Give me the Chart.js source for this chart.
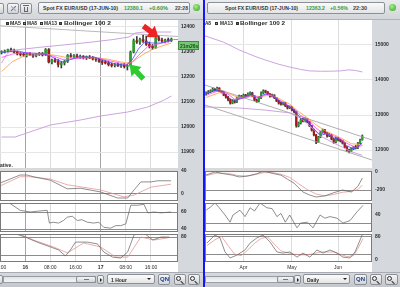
<!DOCTYPE html>
<html><head><meta charset="utf-8">
<script src="https://cdn.jsdelivr.net/npm/chart.js@4.4.1/dist/chart.umd.min.js"></script>
<style>
html,body{margin:0;padding:0}
body{width:400px;height:287px;position:relative;overflow:hidden;background:#d3d7dc;font-family:"Liberation Sans",Arial,sans-serif}
.a{position:absolute}
.t{position:absolute;white-space:nowrap;font-weight:bold;font-size:5px;line-height:6px;color:#2a2a2a;z-index:3}
.tt{font-size:6px;line-height:7px;transform-origin:0 50%}
.lg{font-size:6px;line-height:6px;transform-origin:0 50%}
canvas{position:absolute;z-index:1}
.sq{position:absolute;width:3px;height:3px;box-sizing:border-box;border:0.6px solid #333;z-index:3}
.btn{position:absolute;background:linear-gradient(#f6f6f6,#d2d4d8);border:1px solid #8c9096;border-radius:2px;box-sizing:border-box;z-index:3}
.ov{z-index:3}
</style></head><body>
<!-- top bar -->
<div class="a" style="left:0;top:0;width:400px;height:20px;background:linear-gradient(#e9ebed,#d2d5d9);border-bottom:1px solid #b0b4ba;box-sizing:border-box"></div>
<!-- plot backgrounds -->
<div class="a" style="left:0;top:20px;width:178px;height:252px;background:#fff"></div>
<div class="a" style="left:205px;top:20px;width:167px;height:252px;background:#fff"></div>
<div class="a" style="left:178px;top:20px;width:25px;height:252px;background:#d5d9de"></div>
<div class="a" style="left:372px;top:20px;width:28px;height:252px;background:#d5d9de"></div>
<div class="a" style="left:0;top:168px;width:178px;height:3px;background:#d9d9d9"></div>
<div class="a" style="left:205px;top:168px;width:167px;height:3px;background:#d9d9d9"></div>

<script>
// ================= LEFT : hourly =================
const leftOpen  = [12298,12300,12304,12310,12306,12300,12292,12290,12288,12292,12288,12284,12290,12294,12288,12310,12260,12268,12262,12250,12256,12262,12286,12282,12284,12280,12282,12278,12280,12276,12272,12270,12262,12258,12256,12250,12246,12250,12244,12248,12242,12246,12300,12345,12340,12350,12344,12330,12322,12318,12356,12348,12344,12348,12346];
const leftHigh  = [12305,12308,12312,12316,12312,12304,12298,12296,12294,12298,12292,12294,12298,12298,12314,12314,12272,12276,12270,12262,12266,12290,12294,12290,12292,12288,12286,12284,12286,12282,12278,12276,12268,12266,12262,12256,12254,12256,12252,12254,12250,12304,12352,12362,12356,12368,12364,12340,12330,12362,12366,12356,12352,12356,12356];
const leftLow   = [12292,12296,12300,12302,12296,12288,12284,12282,12280,12286,12278,12280,12286,12284,12286,12256,12252,12258,12240,12236,12248,12258,12278,12276,12278,12274,12272,12270,12274,12268,12262,12258,12250,12252,12244,12240,12240,12242,12238,12236,12228,12242,12296,12334,12330,12338,12326,12316,12310,12314,12344,12338,12336,12340,12342];
const leftClose = [12300,12304,12310,12306,12300,12292,12290,12288,12292,12288,12284,12290,12294,12288,12310,12260,12268,12262,12250,12256,12262,12286,12282,12284,12280,12282,12278,12280,12276,12272,12270,12262,12258,12256,12250,12246,12250,12244,12248,12242,12246,12300,12345,12340,12350,12344,12330,12322,12318,12356,12348,12344,12348,12346,12352];
const leftMA5  = [[0.5,12298],[3,12302],[6,12303],[10,12292],[14,12292],[16,12284],[18,12270],[20,12260],[22,12268],[25,12280],[30,12279],[33,12266],[36,12254],[40,12246],[42,12268],[44,12312],[46,12340],[48,12336],[51,12336],[54.5,12348]];
const leftMA8  = [[0.5,12278],[4,12292],[8,12298],[14,12292],[17,12283],[20,12270],[24,12274],[30,12279],[34,12267],[40,12250],[42,12258],[44,12286],[47,12322],[51,12334],[54.5,12344]];
const leftMA13 = [[0.5,12222],[4,12262],[8,12286],[14,12292],[18,12286],[22,12276],[28,12278],[34,12272],[40,12256],[42,12260],[45,12286],[48,12308],[51,12322],[54.5,12336]];
const leftBandUpper = [[0.5,12256],[2,12288],[3.5,12306],[12,12318],[20,12328],[28,12338],[36,12350],[41,12360],[43,12376],[46,12380],[54.5,12380]];
const leftBandLower = [[0.5,11960],[4.8,11960],[16,12008],[25.6,12028],[32,12044],[40.6,12060],[47,12080],[52.2,12108],[54.5,12124]];
const leftTrend = [[0,12405],[56.6,12362]];
const leftArrows = [
  {tail:[45.6,12192], tip:[41.2,12250], color:'#2ecc2e'},
  {tail:[45.6,12404], tip:[50.4,12358], color:'#ee2424'}
];
const leftPriceTicks = [11900,12000,12100,12200,12300,12400];
const leftTimeTicks  = [0,8,16,24,32,40,48];
const leftTimeLabels = ['16:00','16','08:00','16:00','17','08:00','16:00'];
const leftDayTicks   = [8,32];
const leftMacd   = [[0,19],[6.4,33],[8.6,33],[10.6,30],[16,24],[21.4,9],[25.6,10],[32,3.5],[37.4,-7],[40.6,-7],[42.6,7],[44.8,21],[48,21],[50.2,23],[54.4,23]];
const leftSignal = [[0,14],[6.4,30],[9.6,30],[16,26],[21.4,16],[32,7],[39.4,-5],[42.6,-2],[48,12],[54.4,17]];
const leftOsc = [[0,70],[3.2,70],[6.4,62],[9.6,60],[12,61],[15,62],[15.7,47],[17,48],[18.6,47],[20.2,50],[21.4,54],[23,55],[24.6,50],[26,51],[27.8,48],[29.8,47],[31.4,48],[33,42],[35.2,41],[36.8,44],[38.4,44],[40,46],[41.6,68],[43.8,68],[45.8,69],[47,59],[49,60],[51.2,59],[54.4,60]];
const leftStochK = [[0,93],[4.2,93],[8,80],[11.8,63],[16,47],[18.6,37],[20.8,17],[22.4,37],[24,63],[27.8,63],[31,57],[33,30],[35.8,13],[38.4,10],[40.6,30],[42.6,87],[45.8,93],[48.6,70],[51.2,80],[53.8,80]];
const leftStochD = [[0,93],[6.4,89],[10.6,70],[17,47],[21.4,27],[26.6,60],[32,47],[36.8,13],[40.6,13],[44.8,80],[49,70],[53.4,77]];
const leftMacdTicks = [0,40];
const leftOscTicks  = [40,60];
const leftStochTicks = [20,80];

// ================= RIGHT : daily =================
const rightOpen  = [13600,13630,13660,13690,13740,13710,13770,13690,13660,13570,13510,13430,13340,13400,13370,13490,13540,13510,13570,13540,13600,13630,13540,13430,13400,13490,13630,13690,13660,13600,13540,13570,13490,13400,13340,13310,13340,13260,13200,13230,13140,13090,12690,12770,12860,12830,12890,12800,12690,12570,12430,12230,12370,12510,12570,12490,12400,12430,12310,12230,12340,12290,12260,12200,12090,12000,11970,12030,12090,12060,12200,12290];
const rightHigh  = [13660,13700,13720,13780,13760,13800,13780,13700,13680,13590,13530,13460,13430,13420,13510,13570,13560,13600,13590,13630,13660,13650,13560,13450,13510,13660,13720,13710,13670,13610,13600,13580,13500,13420,13360,13370,13360,13280,13260,13250,13160,13110,12800,12900,12910,12920,12900,12820,12710,12600,12450,12390,12540,12600,12590,12500,12470,12440,12330,12370,12360,12310,12280,12210,12100,12030,12060,12110,12130,12220,12310,12430];
const rightLow   = [13570,13610,13640,13670,13680,13690,13670,13630,13550,13480,13400,13310,13320,13340,13350,13470,13480,13490,13510,13520,13580,13520,13410,13360,13380,13470,13610,13630,13580,13510,13520,13470,13380,13310,13280,13290,13240,13170,13180,13120,13060,12650,12660,12740,12800,12800,12780,12670,12540,12400,12180,12210,12350,12480,12460,12370,12380,12290,12190,12200,12260,12230,12170,12060,11960,11920,11950,12010,12030,12040,12180,12280];
const rightClose = [13630,13660,13690,13740,13710,13770,13690,13660,13570,13510,13430,13340,13400,13370,13490,13540,13510,13570,13540,13600,13630,13540,13430,13400,13490,13630,13690,13660,13600,13540,13570,13490,13400,13340,13310,13340,13260,13200,13230,13140,13090,12690,12770,12860,12830,12890,12800,12690,12570,12430,12230,12370,12510,12570,12490,12400,12430,12310,12230,12340,12290,12260,12200,12090,12000,11970,12030,12090,12060,12200,12290,12400];
const rightMA5  = [[0,13600],[4,13710],[8,13650],[11,13450],[14,13420],[18,13530],[21,13580],[23,13480],[26,13580],[29,13620],[33,13420],[37,13270],[40,13150],[43,12900],[46,12840],[49,12600],[52,12420],[55,12470],[58,12350],[61,12290],[64,12120],[67,12030],[69,12080],[71,12210]];
const rightMA8  = [[0,13560],[5,13680],[9,13640],[13,13450],[17,13480],[21,13560],[24,13500],[28,13600],[32,13480],[36,13320],[40,13180],[43,12980],[47,12830],[50,12620],[53,12490],[57,12430],[61,12320],[64,12190],[68,12070],[71,12130]];
const rightMA13 = [[0,13500],[6,13640],[10,13620],[15,13490],[20,13540],[25,13530],[30,13570],[34,13440],[38,13310],[42,13100],[46,12920],[50,12720],[54,12550],[58,12440],[62,12320],[66,12180],[71,12150]];
const rightBandUpper = [[-0.5,15260],[8,15080],[15,14860],[22,14680],[27,14570],[33,14450],[38,14370],[43,14300],[47,14260],[52,14250],[56,14250],[61,14260],[65,14290],[68,14270],[71,14230]];
const rightBandLower = [[-0.5,13230],[15,13200],[27,13140],[38,13060],[43,12910],[47,12700],[52,12400],[58,12200],[62,12080],[66,11950],[71,11850]];
const rightChannelUpper = [[-0.5,13857],[75.4,12286]];
const rightChannelLower = [[-0.5,13286],[75.4,11714]];
const rightPriceTicks = [12000,13000,14000,15000];
const rightDateTicks  = [17,39,60];
const rightDateLabels = ['Apr','May','Jun'];
const rightMacd   = [[0,-33],[4,0],[8,-20],[12,-35],[15,-55],[19,-45],[23,-20],[25,0],[27,5],[30,-15],[34,-35],[37,-80],[40,-125],[44,-222],[47,-255],[50,-278],[54,-265],[58,-230],[62,-200],[66,-222],[69,-160],[71,-67]];
const rightSignal = [[0,-40],[5,-12],[10,-15],[14,-38],[18,-45],[22,-30],[26,-8],[30,-5],[34,-25],[38,-60],[42,-130],[46,-195],[50,-245],[54,-265],[58,-250],[62,-225],[66,-215],[69,-195],[71,-145]];
const rightOsc = [[0,46],[2,50],[4,55],[6,49],[8.6,40],[10.9,31],[12.2,40],[15.4,46],[17.7,38],[20,49],[22,45],[24.5,55],[27.7,49],[30,48],[32.2,38],[34,42],[36,31],[38,40],[41.3,24],[43,30],[46,31],[48.6,24],[51.8,40],[54,36],[56.3,38],[59.5,36],[62.2,30],[65.4,33],[68.6,44],[71.3,52]];
const rightStochK = [[0.4,59],[4,87],[6.3,77],[8.6,28],[10.9,7],[14,17],[17.7,35],[20,59],[23.1,77],[25.9,87],[29,63],[32.2,28],[35,24],[38.1,28],[41.3,10],[44,24],[47.2,10],[50.4,35],[53.1,24],[56.3,35],[59.5,24],[62.2,10],[65.4,7],[67.7,28],[70,70],[71.3,94]];
const rightStochD = [[0.4,50],[4,70],[7,82],[10,50],[13,20],[16,15],[19,35],[22,58],[25,75],[28,80],[31,55],[34,32],[37,25],[40,20],[43,18],[46,18],[49,22],[52,28],[55,28],[58,28],[61,20],[64,12],[67,15],[69,40],[71.3,75]];
const rightMacdTicks = [-200,0];
const rightOscTicks  = [30,40];
const rightStochTicks = [0,20,80];

// ================= helpers =================
const FONT = 'Liberation Sans';
const tickFont = b => ({family:FONT,size:5,weight:b?'bold':'normal'});
const pairs = a => a.map(p => ({x:p[0], y:p[1]}));
function line(data,color,w,order){
  return {type:'line',data:pairs(data),borderColor:color,borderWidth:w,pointRadius:0,fill:false,order:order,tension:0};
}
function candles(O,H,L,C,off,thick){
  const up = C.map((c,i)=>c>=O[i]);
  return [
    {type:'bar',data:H.map((h,i)=>({x:i+off,y:[L[i],h]})),backgroundColor:'#3a3a3a',barThickness:1,grouped:false,order:6,borderWidth:0},
    {type:'bar',data:O.map((o,i)=>({x:i+off,y:[o,C[i]]})),backgroundColor:up.map(u=>u?'#2e9e2e':'#a81818'),barThickness:thick,grouped:false,order:5,borderWidth:0,minBarLength:1}
  ];
}
function xAxis(min,max,pos,labels,days,show){
  return {type:'linear',min:min,max:max,offset:false,
    afterBuildTicks:s=>{s.ticks=pos.map(v=>({value:v}));},
    afterFit:s=>{s.height=show?10:0;s.paddingLeft=0;s.paddingRight=0;s.paddingTop=0;s.paddingBottom=0;},
    grid:{drawTicks:false,offset:false,lineWidth:1,color:c=>(c.tick&&days.includes(c.tick.value))?'#a4a4a4':'#dcdcdc'},
    border:{display:false},
    ticks:{display:show,autoSkip:false,maxRotation:0,minRotation:0,padding:3,color:'#2b2b2b',
      font:c=>tickFont(c.tick&&days.includes(c.tick.value)),
      callback:v=>labels[pos.indexOf(v)]}
  };
}
function yAxis(min,max,ticks,labelFn,gridFn,w){
  return {position:'right',min:min,max:max,
    afterBuildTicks:s=>{s.ticks=ticks.map(v=>({value:v}));},
    afterFit:s=>{s.width=w;s.paddingTop=0;s.paddingBottom=0;s.paddingLeft=0;s.paddingRight=0;},
    grid:{drawTicks:false,lineWidth:1,color:gridFn},
    border:{display:false},
    ticks:{autoSkip:false,font:tickFont(true),color:'#2b2b2b',padding:3,callback:labelFn}
  };
}
const framePlugin = {id:'frame',afterDatasetsDraw(c,a,o){
  if(!o.on) return; const {ctx,chartArea:r}=c; ctx.save(); ctx.strokeStyle='#7a7a7a'; ctx.lineWidth=1;
  ctx.strokeRect(Math.round(r.left)+0.5,Math.round(r.top)+0.5,Math.round(r.width)-1,Math.round(r.height)-1); ctx.restore();}};
const arrowPlugin = {id:'arrows',afterDatasetsDraw(c,a,o){
  if(!o.list) return; const {ctx,scales:{x,y}}=c;
  o.list.forEach(ar=>{
    const tx=x.getPixelForValue(ar.tip[0]),ty=y.getPixelForValue(ar.tip[1]);
    const sx=x.getPixelForValue(ar.tail[0]),sy=y.getPixelForValue(ar.tail[1]);
    const L=Math.hypot(tx-sx,ty-sy),ux=(tx-sx)/L,uy=(ty-sy)/L,nx=-uy,ny=ux;
    const hl=10,hw=7,sw=2.7,bx=tx-ux*hl,by=ty-uy*hl;
    ctx.save();ctx.beginPath();
    ctx.moveTo(sx+nx*sw,sy+ny*sw);ctx.lineTo(bx+nx*sw,by+ny*sw);ctx.lineTo(bx+nx*hw,by+ny*hw);
    ctx.lineTo(tx,ty);ctx.lineTo(bx-nx*hw,by-ny*hw);ctx.lineTo(bx-nx*sw,by-ny*sw);ctx.lineTo(sx-nx*sw,sy-ny*sw);ctx.closePath();
    ctx.fillStyle=ar.color;ctx.fill();ctx.restore();
  });}};
const priceLinePlugin = {id:'priceLine',afterDatasetsDraw(c,a,o){
  if(o.value==null) return; const {ctx,chartArea:r,scales:{x,y}}=c;
  const yy=Math.round(y.getPixelForValue(o.value))+0.5, xx=x.getPixelForValue(o.from)+2;
  ctx.save();ctx.strokeStyle='#9a9a9a';ctx.lineWidth=1;ctx.beginPath();ctx.moveTo(xx,yy);ctx.lineTo(r.right,yy);ctx.stroke();ctx.restore();}};

function makeCanvas(left,top,w,h){
  const c=document.createElement('canvas'); c.width=w; c.height=h;
  c.style.left=left+'px'; c.style.top=top+'px'; c.style.width=w+'px'; c.style.height=h+'px';
  document.body.appendChild(c); return c;
}
function makeChart(canvas,type,datasets,xa,ya,pad,pl){
  return new Chart(canvas,{type:type,data:{datasets:datasets},
    options:{responsive:false,animation:false,maintainAspectRatio:false,layout:{padding:pad},
      plugins:Object.assign({legend:{display:false},tooltip:{enabled:false}},pl||{}),
      scales:{x:xa,y:ya}},
    plugins:[framePlugin,arrowPlugin,priceLinePlugin]});
}
const mainGrid = () => '#e6e6e6';
const subGrid = keep => c => keep.includes(c.tick.value)?'#8c8c8c':'rgba(0,0,0,0)';
const LXMIN=0, LXMAX=56.6, RXMIN=-0.5, RXMAX=75.4;
const gray='#5e5e5e', pink='#e08a8a', lilac='#c69ad9';

// ---- left main
makeChart(makeCanvas(0,20,200,148),'bar',[
  line(leftTrend,'#a8a8a8',0.8,4), line(leftBandUpper,lilac,0.9,3), line(leftBandLower,lilac,0.9,3),
  line(leftMA13,'#ff9a3c',0.8,2), line(leftMA8,'#ff44ff',0.8,1), line(leftMA5,'#4b4bff',0.8,0),
  ...candles(leftOpen,leftHigh,leftLow,leftClose,0.5,2)
], xAxis(LXMIN,LXMAX,leftTimeTicks,leftTimeLabels,leftDayTicks,false),
   yAxis(11836,12428,leftPriceTicks,v=>String(v),mainGrid,22),0,
   {arrows:{list:leftArrows},priceLine:{value:leftClose[leftClose.length-1],from:leftClose.length-0.5}});
// ---- left subs
makeChart(makeCanvas(0,166,200,40),'line',[line(leftMacd,gray,0.7,0),line(leftSignal,pink,0.7,1)],
  xAxis(LXMIN,LXMAX,leftTimeTicks,leftTimeLabels,leftDayTicks,false),
  yAxis(-12.2,40,leftMacdTicks,v=>String(v),subGrid([0]),22),{top:5,bottom:5},{frame:{on:true}});
makeChart(makeCanvas(0,198,200,39),'line',[line(leftOsc,gray,0.7,0)],
  xAxis(LXMIN,LXMAX,leftTimeTicks,leftTimeLabels,leftDayTicks,false),
  yAxis(36.5,70.6,leftOscTicks,v=>String(v),subGrid([40,60]),22),{top:5,bottom:5},{frame:{on:true}});
makeChart(makeCanvas(0,229,200,43),'line',[line(leftStochK,gray,0.7,0),line(leftStochD,pink,0.7,1)],
  xAxis(LXMIN,LXMAX,leftTimeTicks,leftTimeLabels,leftDayTicks,true),
  yAxis(-3.3,90,leftStochTicks,v=>v===80?'80':'',subGrid([20,80]),22),{top:5,bottom:0},{frame:{on:true}});

// ---- right main
makeChart(makeCanvas(205,20,195,148),'bar',[
  line(rightChannelUpper,'#9a9a9a',0.8,4), line(rightChannelLower,'#9a9a9a',0.8,4),
  line(rightBandUpper,lilac,0.9,3), line(rightBandLower,lilac,0.9,3),
  line(rightMA13,'#ff9a3c',0.8,2), line(rightMA8,'#ff44ff',0.8,1), line(rightMA5,'#4b4bff',0.8,0),
  ...candles(rightOpen,rightHigh,rightLow,rightClose,0,1.6)
], xAxis(RXMIN,RXMAX,rightDateTicks,rightDateLabels,[],false),
   yAxis(11486,15714,rightPriceTicks,v=>String(v),mainGrid,28),0);
// ---- right subs
makeChart(makeCanvas(205,166,195,40),'line',[line(rightMacd,gray,0.7,0),line(rightSignal,pink,0.7,1)],
  xAxis(RXMIN,RXMAX,rightDateTicks,rightDateLabels,[],false),
  yAxis(-322,11,rightMacdTicks,v=>String(v),subGrid([0,-200]),28),{top:5,bottom:5},{frame:{on:true}});
makeChart(makeCanvas(205,198,195,39),'line',[line(rightOsc,gray,0.7,0)],
  xAxis(RXMIN,RXMAX,rightDateTicks,rightDateLabels,[],false),
  yAxis(18.75,55,rightOscTicks,v=>v===40?'40':'',subGrid([30]),28),{top:5,bottom:5},{frame:{on:true}});
makeChart(makeCanvas(205,229,195,43),'line',[line(rightStochK,gray,0.7,0),line(rightStochD,pink,0.7,1)],
  xAxis(RXMIN,RXMAX,rightDateTicks,rightDateLabels,[],true),
  yAxis(-7,90.4,rightStochTicks,v=>v===20?'':String(v),subGrid([20,80]),28),{top:5,bottom:0},{frame:{on:true}});
</script>

<!-- blue divider -->
<div class="a ov" style="left:203px;top:0;width:2px;height:287px;background:#1414ff"></div>

<!-- top toolbar left -->
<div class="btn" style="left:-4px;top:3px;width:8px;height:11px"></div>
<div class="btn" style="left:7px;top:3px;width:12px;height:11px"></div>
<div class="a ov" style="left:10px;top:8px;width:7px;height:1.2px;background:#5a6e8c;transform:rotate(-45deg)"></div>
<div class="a ov" style="left:10px;top:8px;width:7px;height:1px;background:#9aa8bc;transform:rotate(45deg)"></div>
<div class="btn" style="left:20px;top:3px;width:12px;height:11px"></div>
<div class="a ov" style="left:23px;top:5px;width:6px;height:1px;background:#666"></div>
<div class="a ov" style="left:24px;top:6.5px;width:4px;height:5px;border:1px solid #666;border-top:none;box-sizing:border-box"></div>
<!-- title boxes -->
<div class="btn" style="left:38px;top:2px;width:152px;height:12px;background:linear-gradient(#fafafa,#e3e4e6)"></div>
<div class="t tt fit" data-w="75" style="left:43px;top:4.5px;color:#333">Spot FX EUR/USD (17-JUN-10)</div>
<div class="t tt fit" data-w="19" style="left:124px;top:4.5px;color:#3a9a3a">12380.1</div>
<div class="t tt fit" data-w="19" style="left:149px;top:4.5px;color:#3a9a3a">+0.60%</div>
<div class="t tt fit" data-w="13" style="left:175px;top:4.5px;color:#444">22:28</div>
<div class="a ov" style="left:193px;top:3.5px;width:7px;height:7px;border-radius:50%;background:radial-gradient(circle at 40% 35%,#a6ef8a,#2fa21c)"></div>
<div class="btn" style="left:207px;top:2px;width:178px;height:12px;background:linear-gradient(#fafafa,#e3e4e6)"></div>
<div class="t tt fit" data-w="73" style="left:225px;top:4.5px;color:#333">Spot FX EUR/USD (17-JUN-10)</div>
<div class="t tt fit" data-w="19" style="left:306px;top:4.5px;color:#3a9a3a">12363.2</div>
<div class="t tt fit" data-w="18" style="left:330px;top:4.5px;color:#3a9a3a">+0.56%</div>
<div class="t tt fit" data-w="14" style="left:353px;top:4.5px;color:#444">22:30</div>
<div class="a ov" style="left:389px;top:3.5px;width:7px;height:7px;border-radius:50%;background:radial-gradient(circle at 40% 35%,#a6ef8a,#2fa21c)"></div>

<!-- legends -->
<div class="sq" style="left:6px;top:21.5px;background:#4b4bff"></div><div class="t lg fit" data-w="11" style="left:10px;top:20px">MA5</div>
<div class="sq" style="left:22.5px;top:21.5px;background:#ff44ff"></div><div class="t lg fit" data-w="10" style="left:26.5px;top:20px">MA8</div>
<div class="sq" style="left:39.5px;top:21.5px;background:#ff8c1a"></div><div class="t lg fit" data-w="13" style="left:43.5px;top:20px">MA13</div>
<div class="sq" style="left:59px;top:21.5px;background:#9040c0"></div><div class="t lg fit" data-w="47" style="left:63.5px;top:20px">Bollinger 100 2</div>
<div class="a ov" style="left:205px;top:20px;width:167px;height:8px;overflow:hidden">
  <div class="sq" style="left:-9px;top:1.5px;background:#ff44ff"></div><div class="t lg fit" data-w="10" style="left:-4px;top:0px">MA8</div>
  <div class="sq" style="left:10px;top:1.5px;background:#ff8c1a"></div><div class="t lg fit" data-w="13" style="left:15px;top:0px">MA13</div>
  <div class="sq" style="left:31px;top:1.5px;background:#9040c0"></div><div class="t lg fit" data-w="45" style="left:35px;top:0px">Bollinger 100 2</div>
</div>
<div class="t" style="left:0px;top:162px">ative.</div>

<!-- countdown box -->
<div class="a ov" style="left:178px;top:41px;width:21px;height:9px;background:#74c874;border:1px solid #3e8e3e;box-sizing:border-box"></div>
<div class="t" style="left:180px;top:42.5px;color:#1c4a1c">21m26s</div>

<!-- bottom toolbar -->
<div class="a ov" style="left:0;top:272px;width:203px;height:15px;background:linear-gradient(#d6d9dd,#c4c8cd);border-top:1px solid #a8acb2;box-sizing:border-box"></div>
<div class="a ov" style="left:205px;top:272px;width:195px;height:15px;background:linear-gradient(#d6d9dd,#c4c8cd);border-top:1px solid #a8acb2;box-sizing:border-box"></div>
<div class="btn" style="left:-3px;top:275px;width:6px;height:9px"></div>
<div class="a ov" style="left:3px;top:276px;width:93px;height:7px;background:linear-gradient(#e0e2e5,#f4f5f6);border:1px solid #9a9ea4;box-sizing:border-box"></div>
<div class="btn" style="left:76px;top:276px;width:20px;height:7px"></div>
<div class="a ov" style="left:84px;top:279px;width:5px;height:1px;background:#777"></div>
<div class="btn" style="left:97px;top:275px;width:7px;height:9px"></div>
<div class="a ov" style="left:99.5px;top:277.5px;width:0;height:0;border-left:2.5px solid #222;border-top:2px solid transparent;border-bottom:2px solid transparent"></div>
<div class="btn" style="left:107px;top:274px;width:48px;height:10px;background:linear-gradient(#fcfcfc,#e4e4e4)"></div>
<div class="t" style="left:111px;top:276.5px">1 Hour</div>
<div class="a ov" style="left:147px;top:278px;width:0;height:0;border-top:2.5px solid #222;border-left:2px solid transparent;border-right:2px solid transparent"></div>
<div class="btn" style="left:158px;top:274px;width:12px;height:11px"></div>
<div class="t" style="left:160px;top:276px;color:#1a3f8a;font-size:6px">QN</div>
<div class="btn" style="left:174px;top:274px;width:12px;height:11px"></div>
<div class="a ov" style="left:176px;top:276px;width:5px;height:5px;border:1px solid #333;border-radius:50%;box-sizing:border-box"></div>
<div class="a ov" style="left:180px;top:281.5px;width:4px;height:1.2px;background:#333;transform:rotate(45deg)"></div>
<div class="btn" style="left:188px;top:274px;width:12px;height:11px"></div>
<div class="a ov" style="left:190px;top:276px;width:5px;height:5px;border:1px solid #333;border-radius:50%;box-sizing:border-box"></div>
<div class="a ov" style="left:194px;top:281.5px;width:4px;height:1.2px;background:#333;transform:rotate(45deg)"></div>

<div class="a ov" style="left:205px;top:276px;width:89px;height:7px;background:linear-gradient(#e0e2e5,#f4f5f6);border:1px solid #9a9ea4;box-sizing:border-box"></div>
<div class="btn" style="left:277px;top:276px;width:17px;height:7px"></div>
<div class="a ov" style="left:283px;top:279px;width:5px;height:1px;background:#777"></div>
<div class="btn" style="left:294px;top:275px;width:7px;height:9px"></div>
<div class="a ov" style="left:296.5px;top:277.5px;width:0;height:0;border-left:2.5px solid #222;border-top:2px solid transparent;border-bottom:2px solid transparent"></div>
<div class="btn" style="left:303px;top:274px;width:47px;height:10px;background:linear-gradient(#fcfcfc,#e4e4e4)"></div>
<div class="t" style="left:307px;top:276.5px">Daily</div>
<div class="a ov" style="left:343px;top:278px;width:0;height:0;border-top:2.5px solid #222;border-left:2px solid transparent;border-right:2px solid transparent"></div>
<div class="btn" style="left:354px;top:274px;width:13px;height:11px"></div>
<div class="t" style="left:356px;top:276px;color:#1a3f8a;font-size:6px">QN</div>
<div class="btn" style="left:370px;top:274px;width:12px;height:11px"></div>
<div class="a ov" style="left:372px;top:276px;width:5px;height:5px;border:1px solid #333;border-radius:50%;box-sizing:border-box"></div>
<div class="a ov" style="left:376px;top:281.5px;width:4px;height:1.2px;background:#333;transform:rotate(45deg)"></div>
<div class="btn" style="left:385px;top:274px;width:13px;height:11px"></div>
<div class="a ov" style="left:387px;top:276px;width:5px;height:5px;border:1px solid #333;border-radius:50%;box-sizing:border-box"></div>
<div class="a ov" style="left:391px;top:281.5px;width:4px;height:1.2px;background:#333;transform:rotate(45deg)"></div>
<script>
document.querySelectorAll('.fit').forEach(el=>{
  const w=el.getBoundingClientRect().width, target=parseFloat(el.dataset.w);
  if(w>0) el.style.transform='scaleX('+(target/w)+')';
});
</script>
</body></html>
